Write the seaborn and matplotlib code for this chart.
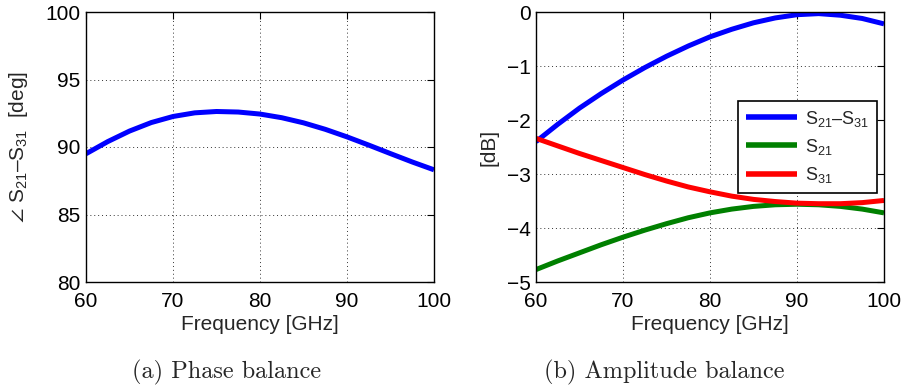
import numpy as np
import pandas as pd
import matplotlib
matplotlib.use("Agg")
import matplotlib.pyplot as plt
import seaborn as sns

freq = [60, 62.5, 65, 67.5, 70, 72.5, 75, 77.5, 80, 82.5, 85, 87.5, 90, 92.5, 95, 97.5, 100]
phase = [89.5, 90.4, 91.18, 91.81, 92.26, 92.53, 92.63, 92.59, 92.44, 92.17, 91.79, 91.31, 90.75, 90.14, 89.51, 88.89, 88.31]
s21_s31 = [-2.40, -2.08, -1.78, -1.51, -1.26, -1.03, -0.82, -0.63, -0.46, -0.32, -0.20, -0.11, -0.05, -0.03, -0.06, -0.12, -0.22]
s21 = [-4.77, -4.61, -4.46, -4.31, -4.17, -4.04, -3.92, -3.81, -3.72, -3.65, -3.60, -3.57, -3.56, -3.57, -3.60, -3.65, -3.72]
s31 = [-2.34, -2.48, -2.62, -2.75, -2.88, -3.01, -3.13, -3.24, -3.33, -3.41, -3.47, -3.51, -3.54, -3.55, -3.55, -3.53, -3.49]

left_yticks = [80, 85, 90, 95, 100]
right_yticks = [0, -1, -2, -3, -4, -5]
xticks = [60, 70, 80, 90, 100]

sns.set_style("white")
plt.rcParams['font.family'] = ['Liberation Sans', 'DejaVu Sans']
plt.rcParams['mathtext.fontset'] = 'custom'
plt.rcParams['mathtext.rm'] = 'Liberation Sans'
plt.rcParams['mathtext.it'] = 'Liberation Sans'
plt.rcParams['mathtext.fallback'] = 'stixsans'

fs = 15
fig = plt.figure(figsize=(9.03, 3.87), dpi=100)
W, H = 903, 387
ax1 = fig.add_axes([86 / W, 1 - 282 / H, (434 - 86) / W, (282 - 12) / H])
ax2 = fig.add_axes([536 / W, 1 - 282 / H, (884 - 536) / W, (282 - 12) / H])

df1 = pd.DataFrame({"f": freq, "v": phase})
sns.lineplot(data=df1, x="f", y="v", ax=ax1, color=(0, 0, 1), lw=3.6,
             solid_joinstyle='round', solid_capstyle='butt')

labels = {"S21-S31": r"S$_{21}$–S$_{31}$", "S21": r"S$_{21}$", "S31": r"S$_{31}$"}
df2 = pd.DataFrame({
    "f": freq * 3,
    "v": s21_s31 + s21 + s31,
    "s": [labels["S21-S31"]] * len(freq) + [labels["S21"]] * len(freq) + [labels["S31"]] * len(freq),
})
sns.lineplot(data=df2, x="f", y="v", hue="s", ax=ax2, lw=3.6,
             palette=[(0, 0, 1), (0, 0.5, 0), (1, 0, 0)],
             hue_order=list(labels.values()), solid_joinstyle='round', solid_capstyle='butt')

for ax in (ax1, ax2):
    ax.set_xlim(60, 100)
    ax.set_xticks(xticks)
    ax.grid(True, color='black', linestyle=(0, (1, 3)), lw=0.7, alpha=0.8)
    ax.tick_params(direction='in', length=5, width=0.8, labelsize=fs, top=True, right=True,
                   colors='black')
    ax.tick_params(axis='x', pad=7)
    ax.tick_params(axis='y', pad=4)
    for sp in ax.spines.values():
        sp.set_color('black')
        sp.set_linewidth(1.0)
    ax.set_xlabel("Frequency [GHz]", fontsize=fs, labelpad=3)

ax1.set_ylim(80, 100)
ax1.set_yticks(left_yticks)
ax1.set_ylabel(r"$\angle$ S$_{21}$–S$_{31}$  [deg]", fontsize=fs, labelpad=11)

ax2.set_ylim(-5, 0)
ax2.set_yticks(right_yticks)
ax2.set_yticklabels(["0", "−1", "−2", "−3", "−4", "−5"])
ax2.set_ylabel("[dB]", fontsize=fs, labelpad=6)

leg = ax2.legend(loc='upper left', bbox_to_anchor=(0.580, 0.672), fontsize=13, frameon=True,
                 fancybox=False, edgecolor='black', framealpha=1, handlelength=2.8,
                 borderpad=0.45, labelspacing=0.45, handletextpad=0.45, borderaxespad=0)
leg.get_frame().set_linewidth(1.2)
for l in leg.get_lines():
    l.set_linewidth(4)

fig.text(227 / W, 1 - 372 / H, "(a) Phase balance", ha='center', va='center',
         fontsize=17.5, family=['cmr10', 'DejaVu Serif'])
fig.text(664 / W, 1 - 372 / H, "(b) Amplitude balance", ha='center', va='center',
         fontsize=17.5, family=['cmr10', 'DejaVu Serif'])

fig.savefig("out.png", dpi=100)
